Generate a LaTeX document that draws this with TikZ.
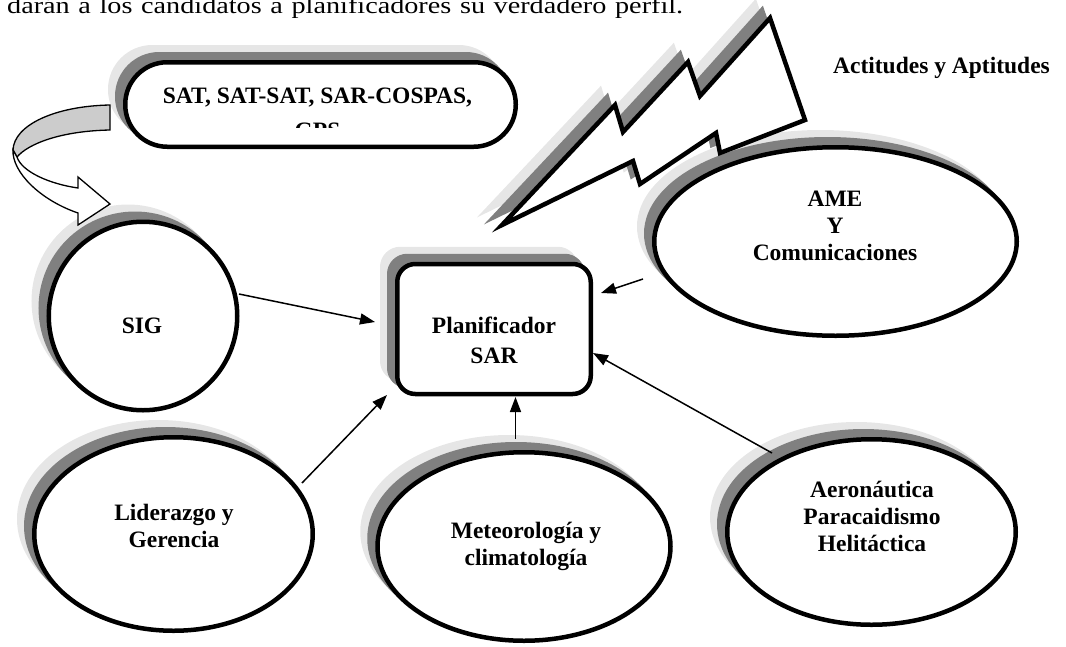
\documentclass[tikz,border=0pt]{standalone}
\usepackage{fontspec}
\setmainfont{Liberation Serif}
\newfontfamily\introfont[FakeStretch=1.2]{Liberation Serif}
\usetikzlibrary{shapes.geometric,arrows.meta}
\definecolor{lg}{HTML}{E6E6E6}
\definecolor{dg}{HTML}{808080}
\definecolor{bandgray}{HTML}{CCCCCC}
\newcommand\lns[1]{\begin{tabular}[t]{@{}c@{}}#1\end{tabular}}
\begin{document}
\begin{tikzpicture}[x=1pt,y=-1pt,
  shd/.style={
    preaction={draw=lg, fill=lg, line width=4.5pt, transform canvas={shift={(-15pt,15pt)}}},
    preaction={draw=dg, fill=dg, line width=4.5pt, transform canvas={shift={(-8pt,8pt)}}}},
  bigshape/.style={draw=black, fill=white, line width=4.5pt, shd, inner sep=0pt},
  lbl/.style={font=\fontsize{23.5}{27}\selectfont\bfseries, anchor=base, inner sep=0pt},
  arr/.style={line width=1.5pt, -{Triangle[length=15pt,width=11pt]}},
  band/.style={draw=black, line width=1.3pt}]
\useasboundingbox (0,0) rectangle (1066,646);
\clip (0,0) rectangle (1066,646);

% intro text line (cut at top, as in the reference)
\node[anchor=base west, inner sep=0pt, font=\introfont\fontsize{23.5}{28}\selectfont] (intro) at (7,13.5)
  {\makebox[676pt][s]{darán a los candidatos a planificadores su verdadero perfil.}};

% SAT box
\node[bigshape, rounded corners=42pt, minimum width=390.5pt, minimum height=84.5pt] (sat) at (320.5,104.5) {};
\node[lbl] (satL) at (317.5,103) {SAT, SAT-SAT, SAR-COSPAS,};
\begin{scope}
  \clip (130,60) rectangle (510,127.5);
  \node[lbl] (gps) at (317.5,138) {GPS};
\end{scope}

% SIG circle
\node[bigshape, circle, minimum size=188.5pt] (sig) at (143,316) {};
\node[lbl] (sigL) at (142,333) {SIG};

% curved block arrow from SAT to SIG
\path[band, fill=bandgray] (110,105) .. controls (55,106) and (14,125) .. (13,150) -- (17,157)
  .. controls (28,144) and (60,131) .. (110,130) -- cycle;
\path[band, fill=white] (13,150) .. controls (12,172) and (40,200) .. (78,213) -- (78,225) -- (110,204)
  -- (78,177) -- (78,188) .. controls (50,184) and (22,172) .. (17,157) -- cycle;

% Planificador
\node[bigshape, rounded corners=18pt, minimum width=193.5pt, minimum height=130pt] (plan) at (494,329) {};
\node[font=\fontsize{23.5}{30}\selectfont\bfseries, anchor=base, inner sep=0pt] (planL) at (494,333)
  {\lns{Planificador\\SAR}};

% AME ellipse
\node[bigshape, ellipse, minimum width=362.5pt, minimum height=188.5pt] (ame) at (835.5,241.5) {};
\node[lbl] (ameL) at (835,206) {\lns{AME\\Y\\Comunicaciones}};

% lightning bolt
\draw[line width=4.5pt, fill=white, shd] (502,225) -- (615,105) -- (623,132) -- (688,62) -- (700,96)
  -- (770,18) -- (805,120) -- (720,153) -- (716,133) -- (640,184) -- (633,161) -- cycle;
\node[lbl] (act) at (941.5,73) {Actitudes y Aptitudes};

% Liderazgo
\node[bigshape, ellipse, minimum width=278.5pt, minimum height=193.5pt] (lid) at (173.5,534) {};
\node[lbl] (lidL) at (174,520) {\lns{Liderazgo y\\Gerencia}};

% Meteorologia
\node[bigshape, ellipse, minimum width=293pt, minimum height=188.5pt] (met) at (524,546.5) {};
\node[lbl] (metL) at (526,538) {\lns{Meteorología y\\climatología}};

% Aeronautica
\node[bigshape, ellipse, minimum width=288.5pt, minimum height=185.5pt] (aer) at (871.5,532) {};
\node[lbl] (aerL) at (872,497) {\lns{Aeronáutica\\Paracaidismo\\Helitáctica}};

% connectors
\coordinate (sigO) at (239,294);
\coordinate (sigT) at (375,322);
\coordinate (ameO) at (643,279);
\coordinate (ameT) at (601,293);
\coordinate (lidO) at (302,483);
\coordinate (lidT) at (387,395);
\coordinate (metO) at (515.5,439);
\coordinate (metT) at (515.5,397);
\coordinate (aerO) at (772,453);
\coordinate (aerT) at (593,353);
\draw[arr] (sigO) -- (sigT);
\draw[arr] (ameO) -- (ameT);
\draw[arr] (lidO) -- (lidT);
\draw[arr] (metO) -- (metT);
\draw[arr] (aerO) -- (aerT);
\end{tikzpicture}
\end{document}
